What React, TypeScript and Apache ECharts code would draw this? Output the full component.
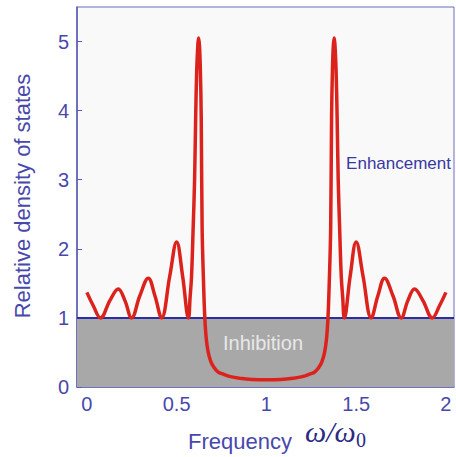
import React, { useEffect, useRef } from "react";
import * as echarts from "echarts";

// Frequency (ω/ω0) and relative density of states
const freq = [
  0, 0.035, 0.076, 0.128, 0.175, 0.212, 0.249, 0.295, 0.342, 0.379,
  0.416, 0.462, 0.5, 0.533, 0.566, 0.575, 0.583, 0.592, 0.6, 0.606,
  0.612, 0.618, 0.622, 0.627, 0.632, 0.637, 0.642, 0.65, 0.657, 0.665,
  0.676, 0.69, 0.704, 0.73, 0.76, 0.8, 0.852, 0.92, 1.0,
  1.08, 1.148, 1.2, 1.24, 1.27, 1.296, 1.31, 1.324, 1.335, 1.343,
  1.35, 1.358, 1.363, 1.368, 1.373, 1.378, 1.382, 1.388, 1.394, 1.4,
  1.408, 1.417, 1.425, 1.434, 1.467, 1.5, 1.538, 1.584, 1.621, 1.658,
  1.705, 1.751, 1.788, 1.825, 1.872, 1.924, 1.965, 2.0,
];
const dos = [
  1.37, 1.18, 1.0, 1.25, 1.42, 1.25, 1.0, 1.32, 1.575, 1.32,
  1.0, 1.61, 2.1, 1.61, 1.0, 1.3, 1.6, 2.3, 3.0, 3.9,
  4.6, 4.95, 5.05, 4.95, 4.6, 3.9, 2.3, 1.5, 1.0, 0.7,
  0.5, 0.37, 0.3, 0.22, 0.185, 0.15, 0.127, 0.11, 0.105,
  0.11, 0.127, 0.15, 0.185, 0.22, 0.3, 0.37, 0.5, 0.7, 1.0,
  1.5, 2.3, 3.9, 4.6, 4.95, 5.05, 4.95, 4.6, 3.9, 3.0,
  2.3, 1.6, 1.3, 1.0, 1.61, 2.1, 1.61, 1.0, 1.32, 1.575,
  1.32, 1.0, 1.25, 1.42, 1.25, 1.0, 1.18, 1.37,
];
const xTicks = [0, 0.5, 1, 1.5, 2];
const yTicks = [0, 1, 2, 3, 4, 5];
const xRange = [-0.055, 2.045];
const yRange = [0, 5.5];
const bandLevel = 1;

const AXIS = "#5a5ab4";
const LABEL = "#4848ac";

export default function App() {
  const ref = useRef<HTMLDivElement>(null);
  useEffect(() => {
    document.body.style.margin = "0";
    const chart = echarts.init(ref.current!, null, { renderer: "svg" });
    const curve = freq.map((f, i) => [f, dos[i]]);
    chart.setOption({
      animation: false,
      backgroundColor: "#ffffff",
      grid: {
        left: 77,
        top: 7,
        right: 2,
        bottom: 70,
        show: true,
        backgroundColor: "#f9f9f9",
        borderColor: "#6a6abc",
        borderWidth: 1,
      },
      xAxis: {
        type: "value",
        min: xRange[0],
        max: xRange[1],
        splitLine: { show: false },
        axisLine: { onZero: false, lineStyle: { color: AXIS, width: 1.5 } },
        axisTick: { inside: true, length: 5, customValues: xTicks, lineStyle: { color: AXIS } },
        axisLabel: {
          customValues: xTicks,
          color: LABEL,
          fontSize: 20,
          fontFamily: "Liberation Sans",
          margin: 7,
          formatter: (v: number) => String(v),
        },
      },
      yAxis: {
        type: "value",
        min: yRange[0],
        max: yRange[1],
        splitLine: { show: false },
        axisLine: { onZero: false, lineStyle: { color: AXIS, width: 1.5 } },
        axisTick: { inside: true, length: 5, customValues: yTicks, lineStyle: { color: AXIS } },
        axisLabel: {
          customValues: yTicks,
          color: LABEL,
          fontSize: 20,
          fontFamily: "Liberation Sans",
          margin: 8,
          formatter: (v: number) => String(v),
        },
      },
      series: [
        {
          type: "line",
          data: [
            [xRange[0], bandLevel],
            [xRange[1], bandLevel],
          ],
          symbol: "none",
          lineStyle: { color: "#2c2ca4", width: 2 },
          areaStyle: { color: "#a8a8a8", opacity: 1, origin: "start" },
          z: 2,
          silent: true,
        },
        {
          type: "line",
          data: curve,
          symbol: "none",
          smooth: 0.4,
          lineStyle: { color: "#dc221c", width: 3.5 },
          z: 3,
          silent: true,
        },
      ],
      graphic: [
        {
          type: "text",
          x: 22,
          y: 196,
          rotation: Math.PI / 2,
          style: {
            text: "Relative density of states",
            fill: LABEL,
            fontSize: 22,
            fontFamily: "Liberation Sans",
            textAlign: "center",
            textVerticalAlign: "middle",
          },
        },
        {
          type: "text",
          x: 188,
          y: 441,
          style: {
            text: "Frequency",
            fill: LABEL,
            fontSize: 22,
            fontFamily: "Liberation Sans",
            textAlign: "left",
            textVerticalAlign: "middle",
          },
        },
        {
          type: "text",
          x: 305,
          y: 431,
          style: {
            text: "ω/ω",
            fill: "#2a2a84",
            fontSize: 30,
            fontStyle: "italic",
            fontFamily: "Liberation Serif",
            textAlign: "left",
            textVerticalAlign: "middle",
          },
        },
        {
          type: "text",
          x: 356,
          y: 440,
          style: {
            text: "0",
            fill: "#2a2a84",
            fontSize: 20,
            fontFamily: "Liberation Serif",
            textAlign: "left",
            textVerticalAlign: "middle",
          },
        },
        {
          type: "text",
          x: 451,
          y: 163,
          z: 10,
          style: {
            text: "Enhancement",
            fill: "#3838a2",
            fontSize: 17,
            fontFamily: "Liberation Sans",
            textAlign: "right",
            textVerticalAlign: "middle",
          },
        },
        {
          type: "text",
          x: 263,
          y: 343,
          z: 10,
          style: {
            text: "Inhibition",
            fill: "#e8e8e8",
            fontSize: 20,
            fontFamily: "Liberation Sans",
            textAlign: "center",
            textVerticalAlign: "middle",
          },
        },
      ],
    });
    return () => chart.dispose();
  }, []);
  return <div ref={ref} style={{ width: 456, height: 457 }} />;
}
